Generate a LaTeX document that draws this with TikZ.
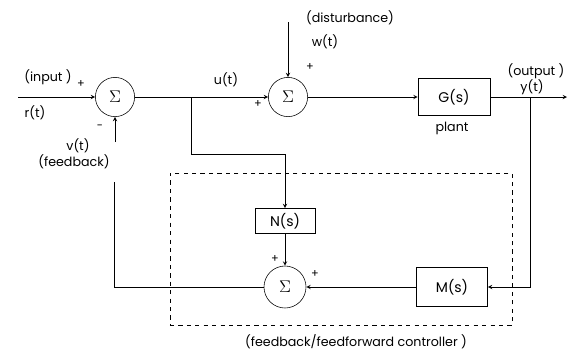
\documentclass[tikz,border=0pt]{standalone}
\usepackage{fontspec}
\setmainfont{Poppins}
\usetikzlibrary{arrows.meta, positioning, calc}

\begin{document}
\begin{tikzpicture}[
    x=0.025cm, y=-0.025cm,
    font=\small,
    sum/.style={draw, circle, minimum size=0.98cm, inner sep=0pt, font=\large},
    block/.style={draw, rectangle, inner sep=2pt, font=\normalsize},
    arrow/.style={draw, ->, >=stealth},
    sign/.style={inner sep=0pt, font=\footnotesize}
]
\useasboundingbox (0,0) rectangle (571,351);

% summing junctions and blocks
\node[sum] (s1) at (115,97) {$\Sigma$};
\node[sum] (s2) at (288,97) {$\Sigma$};
\node[block, minimum width=1.8cm, minimum height=0.93cm] (g) at (454,97) {G(s)};
\node[block, minimum width=1.5cm, minimum height=0.63cm] (n) at (285,221) {N(s)};
\node[sum, minimum size=1.05cm] (s3) at (285,287) {$\Sigma$};
\node[block, minimum width=1.78cm, minimum height=0.97cm] (m) at (452,287) {M(s)};
\node[draw, dashed, minimum width=8.55cm, minimum height=3.8cm] (ctrl) at (341,249) {};

% free ends and branch points
\coordinate (in) at (18,97);
\coordinate (out) at (567,97);
\coordinate (dist) at (288,22);
\coordinate (ub) at (191,97);
\coordinate (ubl) at (191,154);
\coordinate (yb) at (530,97);
\coordinate (fbl) at (114,182);
\coordinate (fbu) at (115,142);

% labels
\node at (48,77) {(input )};
\node[sign] at (81,84) {+};
\node at (35,113) {r(t)};
\node[sign] at (100,127) {-};
\node at (78,146) {v(t)};
\node at (74,162) {(feedback)};
\node at (226,80) {u(t)};
\node[sign] at (258,104) {+};
\node at (350,18) {(disturbance)};
\node at (325,42) {w(t)};
\node[sign] at (310,67) {+};
\node at (536,71) {(output )};
\node at (532,87) {y(t)};
\node at (452,128) {plant};
\node[sign] at (275,259) {+};
\node[sign] at (315,274) {+};
\node at (356,342) {(feedback/feedforward controller )};

% connectors
\draw[arrow] (in) -- (s1);
\draw[arrow] (s1) -- (s2);
\draw[arrow] (dist) -- (s2);
\draw[arrow] (s2) -- (g);
\draw[arrow] (g) -- (out);
\draw[arrow] (ub) -- (ubl) -| (n);
\draw[arrow] (n) -- (s3);
\draw[arrow] (yb) |- (m);
\draw[arrow] (m) -- (s3);
\draw (s3) -| (fbl);
\draw[arrow] (fbu) -- (s1);

\end{tikzpicture}
\end{document}
